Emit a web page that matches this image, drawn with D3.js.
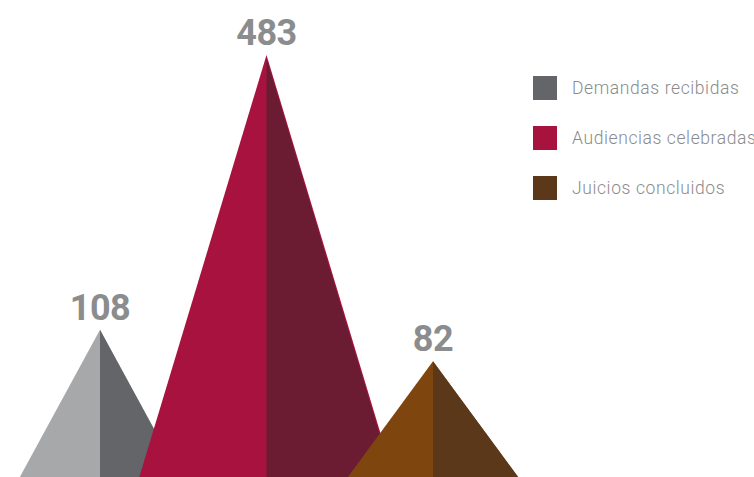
<!DOCTYPE html>
<html>
<head>
<meta charset="utf-8">
<script src="https://cdn.jsdelivr.net/npm/d3@7"></script>
<style>
  body { margin: 0; background: #fff; }
  .value-label { font-family: Roboto, sans-serif; font-weight: 700; fill: #8a8c8e; }
  .legend-label { font-family: Roboto, sans-serif; font-weight: 300; fill: #8a8b8d; }
</style>
</head>
<body>
<svg id="chart"></svg>
<script>
// Data
const categories = ['Demandas recibidas', 'Audiencias celebradas', 'Juicios concluidos'];
const values = [108, 483, 82];

// Colours per category: light (left face), dark (right face), legend swatch
const lightColors = ['#a7a8aa', '#a8123e', '#7f450e'];
const darkColors = ['#636569', '#6b1c33', '#5a3819'];
const swatchColors = ['#636569', '#a8123e', '#5a3819'];

const config = {
    width: 754,
    height: 477,
    baseline: 576,      // pyramids continue below the visible area
    top: 55,
    firstX: 100,
    lastX: 433,
    spread: [134, 157, 158],  // half-width of each pyramid at the baseline
    inset: [0, 1.2, 0]
};

const svg = d3.select('#chart')
    .attr('width', config.width)
    .attr('height', config.height);

// Scales
const xScale = d3.scalePoint()
    .domain(categories)
    .range([config.firstX, config.lastX]);

const yScale = d3.scaleSqrt()
    .domain([0, d3.max(values)])
    .range([config.baseline, config.top]);

const rows = categories.map((c, i) => ({ cat: c, value: values[i], i: i }));

const pyramids = svg.append('g').selectAll('.pyramid')
    .data(rows)
    .join('g')
    .attr('class', 'pyramid');

// Full triangle in the light colour
pyramids.append('path')
    .attr('fill', d => lightColors[d.i])
    .attr('d', d => {
        const cx = xScale(d.cat), ty = yScale(d.value), w = config.spread[d.i];
        return `M${cx},${ty}L${cx + w},${config.baseline}L${cx - w},${config.baseline}Z`;
    });

// Right half in the dark colour
pyramids.append('path')
    .attr('fill', d => darkColors[d.i])
    .attr('d', d => {
        const cx = xScale(d.cat), ty = yScale(d.value), w = config.spread[d.i];
        const k = config.inset[d.i];
        return `M${cx},${ty + k * 3}L${cx + w - k},${config.baseline}L${cx},${config.baseline}Z`;
    });

// Value labels above the apex
pyramids.append('text')
    .attr('class', 'value-label')
    .attr('x', d => xScale(d.cat))
    .attr('y', d => yScale(d.value) - 10)
    .attr('text-anchor', 'middle')
    .style('font-size', '36px')
    .style('letter-spacing', '-0.5px')
    .text(d => d.value);

// Legend
const legend = svg.append('g')
    .attr('transform', 'translate(533, 76)');

const items = legend.selectAll('.legend-item')
    .data(rows)
    .join('g')
    .attr('class', 'legend-item')
    .attr('transform', d => `translate(0, ${d.i * 50})`);

items.append('rect')
    .attr('width', 24)
    .attr('height', 24)
    .attr('fill', d => swatchColors[d.i]);

items.append('text')
    .attr('class', 'legend-label')
    .attr('x', 39)
    .attr('y', 18)
    .style('font-size', '17.5px')
    .style('letter-spacing', '0.6px')
    .text(d => d.cat);
</script>
</body>
</html>
